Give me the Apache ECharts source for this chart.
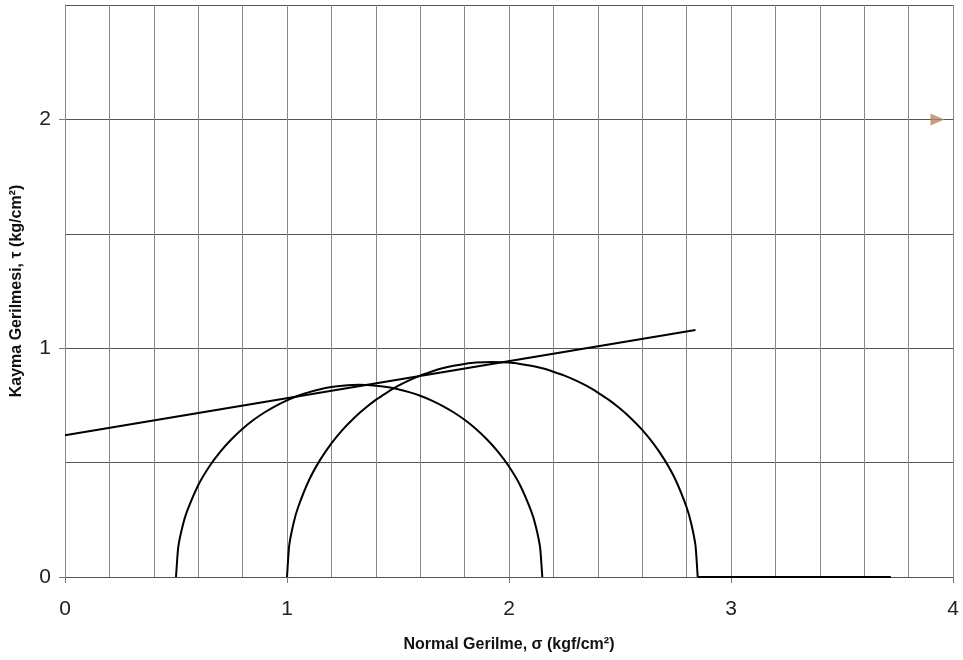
<!DOCTYPE html>
<html>
<head>
<meta charset="utf-8">
<script src="https://cdn.jsdelivr.net/npm/echarts@6/dist/echarts.min.js"></script>
<style>
html,body{margin:0;padding:0;background:#fff;}
#chart{width:963px;height:660px;}
</style>
</head>
<body>
<div id="chart"></div>
<script>
// ---- data ----
const xTickLabels = [0, 1, 2, 3, 4];
const yTickLabels = [0, 1, 2];

// Mohr circle 1 (sigma, tau)
const circle1Sigma = [0.50, 0.51, 0.53, 0.55, 0.60, 0.65, 0.70, 0.75, 0.80, 0.85, 0.90, 0.95, 1.00, 1.05, 1.10, 1.15, 1.20, 1.25, 1.325,
                      1.40, 1.45, 1.50, 1.55, 1.60, 1.65, 1.70, 1.75, 1.80, 1.85, 1.90, 1.95, 2.00, 2.05, 2.10, 2.12, 2.14, 2.15];
const circle1Tau   = [0.000, 0.130, 0.224, 0.288, 0.401, 0.483, 0.548, 0.602, 0.648, 0.687, 0.720, 0.748, 0.772, 0.792, 0.808, 0.821, 0.830, 0.836, 0.840,
                      0.836, 0.830, 0.821, 0.808, 0.792, 0.772, 0.748, 0.720, 0.687, 0.648, 0.602, 0.548, 0.483, 0.401, 0.288, 0.224, 0.130, 0.000];

// Mohr circle 2 (sigma, tau)
const circle2Sigma = [1.00, 1.01, 1.03, 1.05, 1.10, 1.15, 1.20, 1.25, 1.30, 1.35, 1.40, 1.45, 1.50, 1.55, 1.60, 1.65, 1.70, 1.75, 1.80, 1.85, 1.925,
                      2.00, 2.05, 2.10, 2.15, 2.20, 2.25, 2.30, 2.35, 2.40, 2.45, 2.50, 2.55, 2.60, 2.65, 2.70, 2.75, 2.80, 2.82, 2.84, 2.85];
const circle2Tau   = [0.000, 0.138, 0.237, 0.305, 0.425, 0.513, 0.584, 0.643, 0.693, 0.736, 0.774, 0.806, 0.835, 0.859, 0.880, 0.897, 0.912, 0.923, 0.931, 0.937, 0.940,
                      0.937, 0.931, 0.923, 0.912, 0.897, 0.880, 0.859, 0.835, 0.806, 0.774, 0.736, 0.693, 0.643, 0.584, 0.513, 0.425, 0.305, 0.237, 0.138, 0.000];

// Failure envelope
const envelopeSigma = [0.00, 2.84];
const envelopeTau   = [0.62, 1.08];

// Base line along the sigma axis
const baseSigma = [2.85, 3.72];
const baseTau   = [0.00, 0.00];

// small mark at right end of tau = 2 gridline
const markSigma = [3.93];
const markTau   = [2.00];

const zip = (a, b) => a.map((v, i) => [v, b[i]]);

const chart = echarts.init(document.getElementById('chart'), null, {renderer: 'canvas'});
const FONT = 'Liberation Sans, Arial, sans-serif';
const lineStyle = {color: '#000', width: 2};

chart.setOption({
  animation: false,
  backgroundColor: '#fff',
  grid: {left: 65, right: 10, top: 5, bottom: 83, containLabel: false},
  xAxis: {
    type: 'value', min: 0, max: 4, interval: 1,
    name: 'Normal Gerilme, σ (kgf/cm²)',
    nameLocation: 'middle', nameGap: 60,
    nameTextStyle: {fontFamily: FONT, fontWeight: 'bold', fontSize: 16, color: '#111'},
    axisLine: {show: true, lineStyle: {color: '#555', width: 1}},
    axisTick: {show: true, length: 6, lineStyle: {color: '#777'}},
    axisLabel: {margin: 22, fontFamily: FONT, fontSize: 21, color: '#222'},
    splitLine: {show: true, lineStyle: {color: '#888', width: 1}},
    minorTick: {show: false, splitNumber: 5},
    minorSplitLine: {show: true, lineStyle: {color: '#888', width: 1}}
  },
  yAxis: [
    {
      type: 'value', min: 0, max: 2.5, interval: 0.5, position: 'left',
      name: 'Kayma Gerilmesi, τ (kg/cm²)',
      nameLocation: 'middle', nameGap: 40,
      nameTextStyle: {fontFamily: FONT, fontWeight: 'bold', fontSize: 16, color: '#111'},
      axisLine: {show: true, lineStyle: {color: '#888', width: 1}},
      axisTick: {show: false},
      axisLabel: {show: false},
      splitLine: {show: true, lineStyle: {color: '#555', width: 1}}
    },
    {
      type: 'value', min: 0, max: 2.5, interval: 0.5, position: 'left', offset: 0,
      axisLine: {show: false},
      axisTick: {show: true, customValues: yTickLabels, length: 6, lineStyle: {color: '#777'}},
      axisLabel: {customValues: yTickLabels, margin: 14, fontFamily: FONT, fontSize: 21, color: '#222'},
      splitLine: {show: false}
    }
  ],
  series: [
    {
      name: 'Daire 1', type: 'line', data: zip(circle1Sigma, circle1Tau),
      smooth: 0.15, showSymbol: false, lineStyle: lineStyle, z: 5
    },
    {
      name: 'Daire 2', type: 'line', data: zip(circle2Sigma, circle2Tau),
      smooth: 0.15, showSymbol: false, lineStyle: lineStyle, z: 5
    },
    {
      name: 'Zarf', type: 'line', data: zip(envelopeSigma, envelopeTau),
      showSymbol: false, lineStyle: lineStyle, z: 6
    },
    {
      name: 'Taban', type: 'line', data: zip(baseSigma, baseTau),
      showSymbol: false, lineStyle: lineStyle, z: 6
    },
    {
      name: 'İşaret', type: 'scatter', data: zip(markSigma, markTau),
      symbol: 'triangle', symbolRotate: -90, symbolSize: [12, 14],
      itemStyle: {color: '#b9835f'}, z: 7
    }
  ]
});
</script>
</body>
</html>
